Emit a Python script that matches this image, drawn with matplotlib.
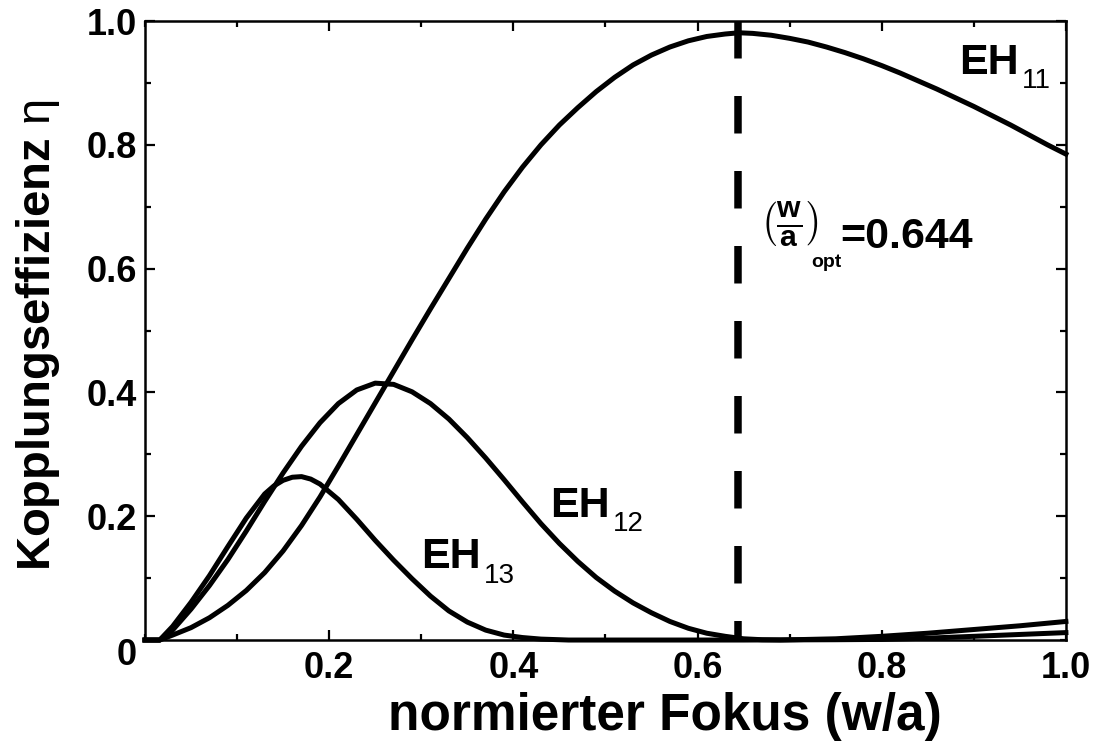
import matplotlib
matplotlib.use('Agg')
import matplotlib.pyplot as plt
from matplotlib.ticker import MultipleLocator

plt.rcParams['font.family'] = ['Liberation Sans', 'DejaVu Sans']
plt.rcParams['font.weight'] = 'bold'
plt.rcParams['mathtext.fontset'] = 'custom'
plt.rcParams['mathtext.rm'] = 'Liberation Sans:weight=normal'
plt.rcParams['mathtext.bf'] = 'Liberation Sans:weight=bold'
plt.rcParams['mathtext.it'] = 'Liberation Sans:style=italic:weight=normal'

# Kopplungseffizienz der Moden EH11, EH12, EH13 ueber w/a
x_eh11 = [0.0, 0.016, 0.03, 0.05, 0.07, 0.09, 0.11, 0.13, 0.15, 0.17, 0.19,
          0.21, 0.23, 0.25, 0.27, 0.29, 0.31, 0.33, 0.35, 0.37, 0.39, 0.41,
          0.43, 0.45, 0.47, 0.49, 0.51, 0.53, 0.55, 0.57, 0.59, 0.61, 0.63,
          0.645, 0.66, 0.68, 0.70, 0.72, 0.74, 0.76, 0.78, 0.80, 0.82, 0.84,
          0.86, 0.88, 0.90, 0.92, 0.94, 0.96, 0.98, 1.0]
y_eh11 = [0.0, 0.0, 0.008, 0.020, 0.036, 0.056, 0.080, 0.109, 0.144, 0.185,
          0.231, 0.281, 0.332, 0.383, 0.434, 0.485, 0.535, 0.584, 0.633,
          0.680, 0.724, 0.764, 0.800, 0.832, 0.860, 0.886, 0.909, 0.929,
          0.945, 0.958, 0.968, 0.975, 0.979, 0.981, 0.980, 0.977, 0.972,
          0.966, 0.958, 0.949, 0.939, 0.928, 0.916, 0.903, 0.890, 0.876,
          0.862, 0.847, 0.832, 0.816, 0.800, 0.785]

x_eh12 = [0.0, 0.016, 0.03, 0.05, 0.07, 0.09, 0.11, 0.13, 0.15, 0.17, 0.19,
          0.21, 0.23, 0.25, 0.27, 0.29, 0.31, 0.33, 0.35, 0.37, 0.39, 0.41,
          0.43, 0.45, 0.47, 0.49, 0.51, 0.53, 0.55, 0.57, 0.59, 0.61, 0.63,
          0.65, 0.67, 0.69, 0.72, 0.75, 0.80, 0.85, 0.90, 0.95, 1.0]
y_eh12 = [0.0, 0.0, 0.016, 0.050, 0.088, 0.130, 0.176, 0.224, 0.270, 0.313,
          0.351, 0.382, 0.404, 0.415, 0.413, 0.401, 0.382, 0.357, 0.327,
          0.294, 0.259, 0.223, 0.188, 0.156, 0.127, 0.101, 0.079, 0.060,
          0.044, 0.030, 0.019, 0.011, 0.006, 0.002, 0.0005, 0.0, 0.001,
          0.002, 0.006, 0.011, 0.017, 0.023, 0.030]

x_eh13 = [0.0, 0.016, 0.03, 0.05, 0.07, 0.09, 0.11, 0.13, 0.14, 0.15, 0.16,
          0.17, 0.18, 0.19, 0.21, 0.23, 0.25, 0.27, 0.29, 0.31, 0.33, 0.35,
          0.37, 0.39, 0.41, 0.43, 0.46, 0.55, 0.65, 0.75, 0.80, 0.85, 0.90,
          0.95, 1.0]
y_eh13 = [0.0, 0.0, 0.022, 0.061, 0.104, 0.151, 0.197, 0.236, 0.249, 0.258,
          0.263, 0.264, 0.260, 0.252, 0.227, 0.195, 0.161, 0.129, 0.099,
          0.071, 0.047, 0.029, 0.016, 0.008, 0.004, 0.0015, 0.0, 0.0, 0.0,
          0.0005, 0.001, 0.003, 0.006, 0.009, 0.012]

w_opt = 0.644

fig = plt.figure(figsize=(11, 7.45), dpi=100)
ax = fig.add_axes([0.1318, 0.1409, 0.8372, 0.8309])

for xs, ys in [(x_eh11, y_eh11), (x_eh12, y_eh12), (x_eh13, y_eh13)]:
    ax.plot(xs, ys, color='black', lw=3.6, solid_joinstyle='round',
            clip_on=False)

# optimaler Fokus, gestrichelt von oben nach unten
ax.plot([w_opt, w_opt], [1.0, 0.0], color='black', lw=5.4,
        linestyle=(0, (5, 5)))

ax.set_xlim(0, 1.0)
ax.set_ylim(0, 1.0)
ax.xaxis.set_minor_locator(MultipleLocator(0.1))
ax.yaxis.set_minor_locator(MultipleLocator(0.1))
ax.set_xticks([0.2, 0.4, 0.6, 0.8, 1.0])
ax.set_xticklabels(['0.2', '0.4', '0.6', '0.8', '1.0'])
ax.set_yticks([0.2, 0.4, 0.6, 0.8, 1.0])
ax.set_yticklabels(['0.2', '0.4', '0.6', '0.8', '1.0'])
ax.tick_params(which='both', direction='in', top=True, right=True,
               width=1.6, labelsize=26)
ax.tick_params(which='major', length=7)
ax.tick_params(which='minor', length=4)
ax.tick_params(axis='x', pad=8)
ax.tick_params(axis='y', pad=6)
for sp in ax.spines.values():
    sp.set_linewidth(1.8)

# gemeinsame Null im Ursprung
ax.annotate('0', xy=(0, 0), xytext=(-6, -11), textcoords='offset points',
            ha='right', va='center', fontsize=26, fontweight='bold')

ax.set_xlabel('normierter Fokus (w/a)', fontsize=37, fontweight='bold')
ax.xaxis.label.set_va('center')
ax.xaxis.set_label_coords(0.565, -0.123)
ax.set_ylabel(r'Kopplungseffizienz $\mathrm{\eta}$', fontsize=34,
              fontweight='bold')
ax.yaxis.label.set_va('center')
ax.yaxis.set_label_coords(-0.116, 0.493)


def mode_label(x, y, idx):
    """EH in bold, mode index as a lowered, lighter subscript."""
    ax.text(x, y, 'EH', fontsize=31, fontweight='bold',
            ha='left', va='baseline')
    ax.annotate(idx, xy=(x, y), xytext=(45, -10.5),
                textcoords='offset points', fontsize=20,
                fontweight='normal', ha='left', va='baseline')


mode_label(0.884, 0.915, '11')
mode_label(0.440, 0.199, '12')
mode_label(0.300, 0.116, '13')

# (w/a)_opt = 0.644
ax.text(0.668, 0.672, r'$\left(\frac{\mathbf{w}}{\mathbf{a}}\right)$',
        fontsize=31, ha='left', va='center')
ax.text(0.724, 0.602, 'opt', fontsize=14, ha='left', va='baseline')
ax.text(0.755, 0.634, '=0.644', fontsize=31, fontweight='bold',
        ha='left', va='baseline')

fig.savefig('out.png', dpi=100, facecolor='white')
